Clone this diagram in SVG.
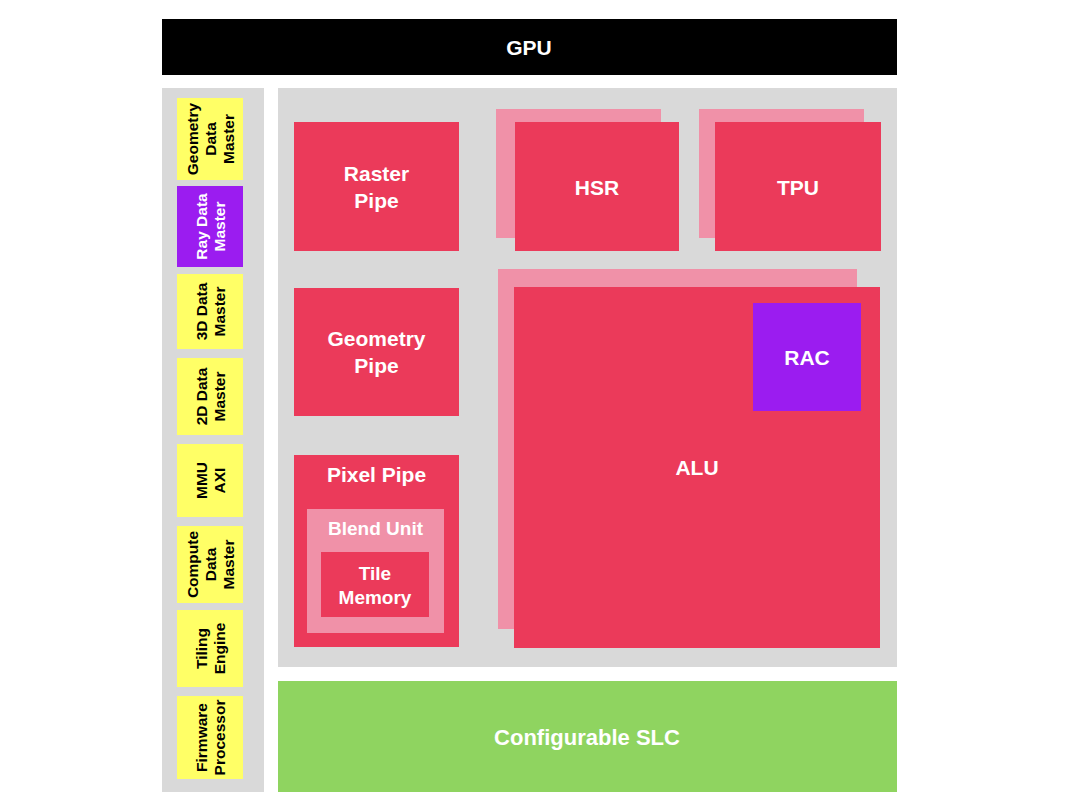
<svg xmlns="http://www.w3.org/2000/svg" width="1080" height="810" viewBox="0 0 1080 810">
<style>
.panel{fill:#d9d9d9}
.red{fill:#eb3a5a}
.pink{fill:#f091a8}
.purple{fill:#9b1cf0}
.yellow{fill:#ffff66}
.wt{fill:#ffffff;font-family:"Liberation Sans",Arial,sans-serif;font-weight:bold;text-anchor:middle}
.bt{fill:#000000;font-family:"Liberation Sans",Arial,sans-serif;font-weight:bold;text-anchor:middle;font-size:15.5px}
.big{font-size:21px}
</style>
<rect width="1080" height="810" fill="#ffffff"/>
<g id="gpu">
<rect x="162" y="19" width="735" height="56" fill="#000000"/>
<text class="wt big" x="529" y="55">GPU</text>
</g>
<g id="left-panel"><rect class="panel" x="162" y="88" width="102" height="704"/></g>
<g id="right-panel"><rect class="panel" x="278" y="88" width="619" height="579"/></g>
<g id="slc">
<rect x="278" y="681" width="619" height="111" fill="#8fd460"/>
<text class="wt" x="587" y="745" font-size="22">Configurable SLC</text>
</g>

<g id="geometry-data-master">
<rect class="yellow" x="177" y="98" width="66" height="82"/>
<g transform="translate(210 139) rotate(-90)"><text class="bt" y="-12.4">Geometry</text><text class="bt" y="5.6">Data</text><text class="bt" y="23.6">Master</text></g>
</g>
<g id="ray-data-master">
<rect class="purple" x="177" y="186" width="66" height="81"/>
<g transform="translate(210 226.5) rotate(-90)"><text class="bt" y="-3.4" style="fill:#ffffff">Ray Data</text><text class="bt" y="14.6" style="fill:#ffffff">Master</text></g>
</g>
<g id="3d-data-master">
<rect class="yellow" x="177" y="274" width="66" height="75"/>
<g transform="translate(210 311.5) rotate(-90)"><text class="bt" y="-3.4">3D Data</text><text class="bt" y="14.6">Master</text></g>
</g>
<g id="2d-data-master">
<rect class="yellow" x="177" y="358" width="66" height="77"/>
<g transform="translate(210 396.5) rotate(-90)"><text class="bt" y="-3.4">2D Data</text><text class="bt" y="14.6">Master</text></g>
</g>
<g id="mmu-axi">
<rect class="yellow" x="177" y="444" width="66" height="73"/>
<g transform="translate(210 480.5) rotate(-90)"><text class="bt" y="-3.4">MMU</text><text class="bt" y="14.6">AXI</text></g>
</g>
<g id="compute-data-master">
<rect class="yellow" x="177" y="526" width="66" height="77"/>
<g transform="translate(210 564.5) rotate(-90)"><text class="bt" y="-12.4">Compute</text><text class="bt" y="5.6">Data</text><text class="bt" y="23.6">Master</text></g>
</g>
<g id="tiling-engine">
<rect class="yellow" x="177" y="610" width="66" height="77"/>
<g transform="translate(210 648.5) rotate(-90)"><text class="bt" y="-3.4">Tiling</text><text class="bt" y="14.6">Engine</text></g>
</g>
<g id="firmware-processor">
<rect class="yellow" x="177" y="696" width="66" height="83"/>
<g transform="translate(210 737.5) rotate(-90)"><text class="bt" y="-3.4">Firmware</text><text class="bt" y="14.6">Processor</text></g>
</g>

<g id="raster-pipe">
<rect class="red" x="294" y="122" width="165" height="129"/>
<text class="wt big" x="376.5" y="181">Raster</text>
<text class="wt big" x="376.5" y="208">Pipe</text>
</g>
<g id="hsr">
<rect class="pink" x="496" y="109" width="165" height="129"/>
<rect class="red" x="515" y="122" width="164" height="129"/>
<text class="wt big" x="597" y="195">HSR</text>
</g>
<g id="tpu">
<rect class="pink" x="699" y="109" width="165" height="129"/>
<rect class="red" x="715" y="122" width="166" height="129"/>
<text class="wt big" x="798" y="195">TPU</text>
</g>
<g id="geometry-pipe">
<rect class="red" x="294" y="288" width="165" height="128"/>
<text class="wt big" x="376.5" y="346">Geometry</text>
<text class="wt big" x="376.5" y="373">Pipe</text>
</g>
<g id="pixel-pipe">
<rect class="red" x="294" y="455" width="165" height="192"/>
<text class="wt big" x="376.5" y="482">Pixel Pipe</text>
</g>
<g id="blend-unit">
<rect class="pink" x="307" y="509" width="137" height="124"/>
<text class="wt" x="375.5" y="535" font-size="19">Blend Unit</text>
</g>
<g id="tile-memory">
<rect class="red" x="321" y="552" width="108" height="65"/>
<text class="wt" x="375" y="580" font-size="19">Tile</text>
<text class="wt" x="375" y="604" font-size="19">Memory</text>
</g>
<g id="alu">
<rect class="pink" x="498" y="269" width="359" height="360"/>
<rect class="red" x="514" y="287" width="366" height="361"/>
<text class="wt big" x="697" y="475">ALU</text>
</g>
<g id="rac">
<rect class="purple" x="753" y="303" width="108" height="108"/>
<text class="wt big" x="807" y="365">RAC</text>
</g>
<g id="connectors"></g>
</svg>
